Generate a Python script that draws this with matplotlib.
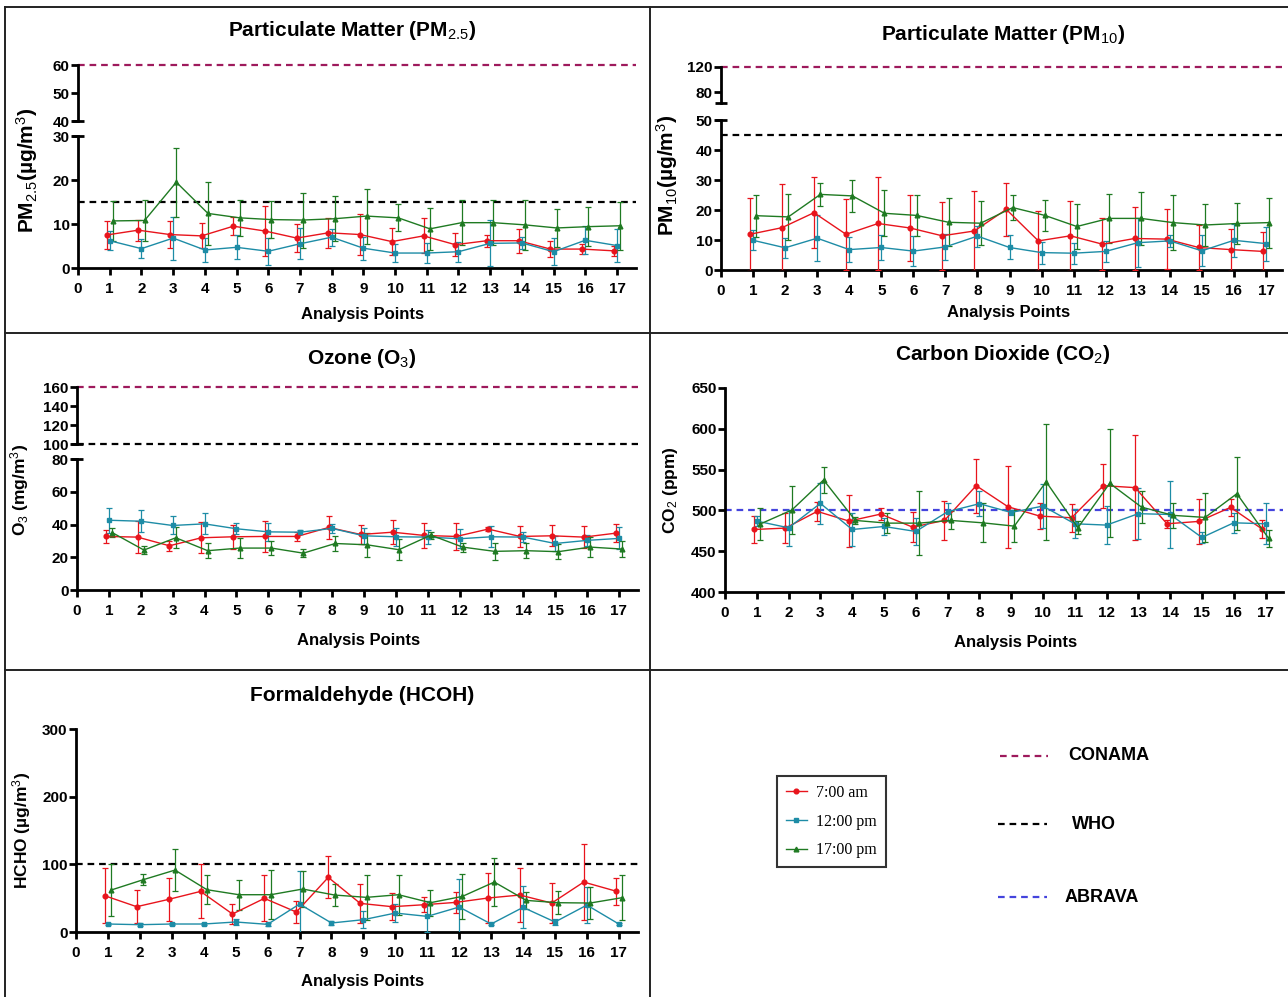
import numpy as np
import matplotlib
matplotlib.use("Agg")
import matplotlib.pyplot as plt
from matplotlib.lines import Line2D

# ---------------- data ----------------
points = list(range(1, 18))
x_ticks = list(range(0, 18))

pm25_am = [7.5, 8.6, 7.6, 7.3, 9.5, 8.4, 6.8, 8.0, 7.6, 6.0, 7.3, 5.3, 6.2, 6.2, 4.3, 4.3, 3.9]
pm25_am_sd = [3.15, 2.4, 3.0, 2.85, 2.05, 5.7, 3.1, 3.4, 4.65, 3.0, 3.95, 2.65, 1.35, 2.75, 1.75, 1.1, 1.15]
pm25_noon = [6.2, 4.4, 6.8, 4.1, 4.7, 3.8, 5.5, 7.0, 4.5, 3.4, 3.4, 3.7, 5.6, 5.7, 3.7, 6.3, 5.1]
pm25_noon_sd = [2.2, 2.1, 4.9, 2.65, 2.7, 3.05, 3.5, 1.9, 2.6, 2.1, 2.3, 2.25, 5.2, 1.45, 3.1, 3.2, 3.85]
pm25_pm = [10.7, 10.8, 19.5, 12.4, 11.4, 11.0, 10.9, 11.2, 11.8, 11.4, 8.9, 10.3, 10.3, 9.8, 9.1, 9.4, 9.6]
pm25_pm_sd = [4.55, 4.65, 7.8, 7.2, 4.1, 4.15, 6.25, 5.1, 6.25, 3.05, 4.75, 5.05, 5.05, 5.65, 4.35, 4.4, 5.45]

pm10_am = [11.9, 14.1, 19.1, 11.9, 15.5, 14.0, 11.4, 13.0, 20.2, 9.7, 11.4, 8.6, 10.5, 10.3, 7.5, 6.8, 6.2]
pm10_am_sd = [12.1, 14.4, 11.9, 11.9, 15.5, 11.0, 11.4, 13.2, 8.8, 9.9, 11.6, 8.7, 10.5, 10.1, 7.5, 7.0, 6.5]
pm10_noon = [9.9, 7.4, 10.6, 6.8, 7.5, 6.3, 7.7, 11.3, 7.5, 5.8, 5.6, 6.2, 9.1, 9.7, 6.4, 9.9, 8.8]
pm10_noon_sd = [3.4, 3.3, 7.7, 4.15, 4.3, 4.95, 4.4, 3.5, 4.0, 3.65, 3.45, 3.6, 8.1, 1.95, 5.2, 5.5, 5.65]
pm10_pm = [18.1, 17.7, 25.2, 24.7, 18.9, 18.2, 15.9, 15.6, 20.8, 18.2, 14.5, 17.2, 17.2, 15.8, 15.0, 15.5, 15.8]
pm10_pm_sd = [7.0, 7.7, 3.8, 5.35, 7.7, 6.8, 7.95, 7.3, 4.1, 5.2, 7.65, 8.05, 8.85, 9.05, 7.1, 6.75, 8.35]

o3_am = [32.7, 32.3, 27.0, 31.9, 32.5, 32.7, 32.7, 38.2, 33.9, 35.3, 33.3, 32.7, 37.2, 32.7, 33.1, 32.3, 34.7]
o3_am_sd = [4.0, 9.8, 3.0, 9.6, 7.5, 9.25, 2.75, 7.25, 5.7, 7.45, 7.4, 8.4, 1.25, 6.3, 6.3, 6.75, 5.65]
o3_noon = [42.6, 42.0, 39.4, 40.4, 37.4, 35.5, 35.3, 37.6, 33.1, 32.5, 32.3, 31.3, 32.5, 32.3, 28.4, 30.3, 31.5]
o3_noon_sd = [7.65, 6.65, 5.5, 6.35, 3.5, 5.5, 1.1, 2.75, 5.0, 5.5, 4.25, 5.8, 6.5, 3.25, 4.5, 3.25, 6.7]
o3_pm = [35.1, 24.4, 31.9, 24.0, 25.6, 25.6, 22.5, 28.4, 27.6, 24.6, 33.5, 26.2, 23.6, 24.0, 23.4, 26.2, 25.0]
o3_pm_sd = [2.6, 2.55, 6.3, 4.5, 6.25, 4.1, 2.35, 4.6, 7.35, 6.5, 2.2, 2.75, 5.15, 4.5, 4.75, 6.35, 4.95]

co2_am = [476.6, 478.3, 498.8, 486.9, 495.5, 479.5, 487.7, 530.3, 504.5, 493.0, 491.0, 530.3, 527.9, 483.6, 486.5, 503.7, 477.0]
co2_am_sd = [16, 18, 12, 32, 7, 18, 24, 33, 50, 16, 17, 27, 64, 5, 28, 10, 11]
co2_noon = [486.9, 478.7, 508.6, 476.6, 480.3, 474.2, 498.4, 508.2, 497.5, 505.3, 483.6, 482.0, 496.0, 495.0, 466.8, 484.8, 483.6]
co2_noon_sd = [6, 22, 25, 20, 10, 16, 11, 15, 3, 27, 18, 23, 31, 41, 7, 12, 25]
co2_pm = [483.2, 500.4, 537.3, 487.7, 484.4, 484.4, 487.7, 484.8, 480.7, 535.2, 478.7, 533.2, 504.0, 493.9, 491.4, 520.5, 465.6]
co2_pm_sd = [20, 29, 16, 4.5, 12, 39, 11, 24, 20, 71, 8, 66, 20, 15, 30, 45, 10]

hcho_am = [53.6, 37.4, 48.2, 60.0, 26.6, 49.7, 29.5, 80.7, 42.3, 37.4, 40.3, 43.8, 50.2, 54.6, 42.8, 73.8, 60.5]
hcho_am_sd = [41, 24, 32, 40, 14.5, 34, 16.7, 31, 29, 20, 11, 15.5, 36.7, 40, 29, 56, 20]
hcho_noon = [11.8, 10.8, 11.8, 11.8, 14.8, 11.3, 41.3, 13.3, 18.2, 28.0, 23.1, 36.9, 11.8, 36.4, 14.8, 39.8, 11.8]
hcho_noon_sd = [2, 2, 2, 2, 4, 2, 49, 3, 13, 13, 23, 42, 2, 31, 4, 26, 2]
hcho_pm = [62.0, 77.2, 91.5, 62.5, 55.1, 55.1, 63.5, 54.6, 51.2, 55.1, 43.3, 52.6, 73.8, 46.7, 43.3, 42.8, 50.7]
hcho_pm_sd = [39, 8, 31.5, 21, 22, 36, 27, 16, 33, 29.5, 19, 33, 36, 13, 17, 24, 33]

series_labels = ["7:00 am", "12:00 pm", "17:00 pm"]
standard_labels = ["CONAMA", "WHO", "ABRAVA"]
pm25_limits = {"CONAMA": 60, "WHO": 15}
pm10_limits = {"CONAMA": 120, "WHO": 45}
o3_limits = {"CONAMA": 160, "WHO": 100}
co2_limits = {"ABRAVA": 500}
hcho_limits = {"WHO": 100}

# ---------------- style ----------------
plt.rcParams["font.family"] = ["Liberation Sans", "DejaVu Sans"]
plt.rcParams["mathtext.fontset"] = "custom"
plt.rcParams["mathtext.rm"] = "Liberation Sans"
plt.rcParams["mathtext.it"] = "Liberation Sans"
plt.rcParams["mathtext.bf"] = "Liberation Sans:bold"

RED = "#e8141c"
TEAL = "#1d8ca6"
GREEN = "#1f7a22"
STD_COLORS = {"CONAMA": "#9e1a5c", "WHO": "#000000", "ABRAVA": "#4444dd"}
SERIES_COLORS = [RED, TEAL, GREEN]
SERIES_MARKERS = ["o", "s", "^"]
OFFSETS = [-0.1, 0.0, 0.1]

W, H = 1288, 997
fig = plt.figure(figsize=(W / 100, H / 100), dpi=100)

SPW = 2.0
TICKFS = 11


def make_ax(x0, x1, ytop, ybot):
    return fig.add_axes([x0 / W, 1 - ybot / H, (x1 - x0) / W, (ybot - ytop) / H])


def style_ax(ax, show_x=True):
    ax.spines["top"].set_visible(False)
    ax.spines["right"].set_visible(False)
    ax.spines["left"].set_linewidth(SPW)
    ax.spines["bottom"].set_linewidth(SPW)
    ax.tick_params(axis="y", direction="out", length=5, width=SPW, labelsize=TICKFS, pad=1)
    ax.tick_params(axis="x", direction="out", length=5, width=SPW, labelsize=TICKFS, pad=5)
    for lab in ax.get_yticklabels() + ax.get_xticklabels():
        lab.set_fontweight("bold")
    ax.set_facecolor("none")
    if show_x:
        ax.set_xticks(x_ticks)
        ax.set_xticklabels([str(t) for t in x_ticks], fontweight="bold")
    else:
        ax.spines["bottom"].set_visible(False)
        ax.set_xticks([])


def cap(ax, where):
    # small horizontal cap at the end of a broken y spine
    y = 1 if where == "top" else 0
    ax.plot([0], [y], marker="_", ms=9, mew=SPW, color="black",
            transform=ax.transAxes, clip_on=False, zorder=5)


def draw_series(ax, groups):
    for (m, s), c, mk, off in zip(groups, SERIES_COLORS, SERIES_MARKERS, OFFSETS):
        x = np.array(points) + off
        ax.errorbar(x, m, yerr=s, color=c, marker=mk, ms=3.4, lw=1.0,
                    elinewidth=0.9, capsize=2.2, capthick=0.9, zorder=3)


def hline(ax, y, name):
    ax.axhline(y, color=STD_COLORS[name], lw=1.6, ls=(0, (3, 2.2)), clip_on=False, zorder=2)


def title(x, y, s):
    fig.text(x / W, 1 - y / H, s, ha="center", va="center", fontsize=15, fontweight="bold")


def ylab(x, y, s, fs=13):
    fig.text(x / W, 1 - y / H, s, ha="center", va="center", rotation=90,
             fontsize=fs, fontweight="bold")


def xlab(x, y):
    fig.text(x / W, 1 - y / H, "Analysis Points", ha="center", va="center",
             fontsize=12, fontweight="bold")


XL = (0, 17.6)

# ---- Panel 1: PM2.5 ----
a_lo = make_ax(78, 636, 136, 268)
a_hi = make_ax(78, 636, 65, 121)
for a in (a_lo, a_hi):
    a.set_xlim(*XL)
a_lo.set_ylim(0, 30)
a_lo.set_yticks([0, 10, 20, 30])
a_hi.set_ylim(40, 60)
a_hi.set_yticks([40, 50, 60])
style_ax(a_lo)
style_ax(a_hi, show_x=False)
cap(a_lo, "top"); cap(a_hi, "bottom")
draw_series(a_lo, [(pm25_am, pm25_am_sd), (pm25_noon, pm25_noon_sd), (pm25_pm, pm25_pm_sd)])
hline(a_lo, pm25_limits["WHO"], "WHO")
hline(a_hi, pm25_limits["CONAMA"], "CONAMA")
title(352, 31, "Particulate Matter (PM$_{2.5}$)")
ylab(27, 170, "PM$_{2.5}$(µg/m$^{3}$)", fs=15)
xlab(363, 314)

# ---- Panel 2: PM10 ----
b_lo = make_ax(721, 1282, 120, 270)
b_hi = make_ax(721, 1282, 67, 103)
for a in (b_lo, b_hi):
    a.set_xlim(0, 17.5)
b_lo.set_ylim(0, 50)
b_lo.set_yticks([0, 10, 20, 30, 40, 50])
b_hi.set_ylim(62.4, 120)
b_hi.set_yticks([80, 120])
style_ax(b_lo)
style_ax(b_hi, show_x=False)
cap(b_lo, "top"); cap(b_hi, "bottom")
draw_series(b_lo, [(pm10_am, pm10_am_sd), (pm10_noon, pm10_noon_sd), (pm10_pm, pm10_pm_sd)])
hline(b_lo, pm10_limits["WHO"], "WHO")
hline(b_hi, pm10_limits["CONAMA"], "CONAMA")
title(1003, 34, "Particulate Matter (PM$_{10}$)")
ylab(667, 175, "PM$_{10}$(µg/m$^{3}$)", fs=15)
xlab(1009, 313)

# ---- Panel 3: O3 ----
c_lo = make_ax(77, 638, 459, 590)
c_hi = make_ax(77, 638, 387, 444)
for a in (c_lo, c_hi):
    a.set_xlim(*XL)
c_lo.set_ylim(0, 80)
c_lo.set_yticks([0, 20, 40, 60, 80])
c_hi.set_ylim(100, 160)
c_hi.set_yticks([100, 120, 140, 160])
style_ax(c_lo)
style_ax(c_hi, show_x=False)
cap(c_lo, "top"); cap(c_hi, "bottom")
draw_series(c_lo, [(o3_am, o3_am_sd), (o3_noon, o3_noon_sd), (o3_pm, o3_pm_sd)])
hline(c_hi, o3_limits["WHO"], "WHO")
hline(c_hi, o3_limits["CONAMA"], "CONAMA")
title(362, 358, "Ozone (O$_{3}$)")
ylab(20, 490, "O$_{3}$ (mg/m$^{3}$)", fs=12.5)
xlab(359, 640)

# ---- Panel 4: CO2 ----
d = make_ax(725, 1283, 388, 592)
d.set_xlim(0, 17.55)
d.set_ylim(400, 650)
d.set_yticks([400, 450, 500, 550, 600, 650])
style_ax(d)
draw_series(d, [(co2_am, co2_am_sd), (co2_noon, co2_noon_sd), (co2_pm, co2_pm_sd)])
hline(d, co2_limits["ABRAVA"], "ABRAVA")
title(1003, 355, "Carbon Dioxide (CO$_{2}$)")
ylab(670, 490, "CO$_{2}$ (ppm)", fs=12.5)
xlab(1016, 642)

# ---- Panel 5: HCHO ----
e = make_ax(76, 638, 729, 932)
e.set_xlim(*XL)
e.set_ylim(0, 300)
e.set_yticks([0, 100, 200, 300])
style_ax(e)
draw_series(e, [(hcho_am, hcho_am_sd), (hcho_noon, hcho_noon_sd), (hcho_pm, hcho_pm_sd)])
hline(e, hcho_limits["WHO"], "WHO")
title(362, 695, "Formaldehyde (HCOH)")
ylab(22, 830, "HCHO (µg/m$^{3}$)", fs=12.5)
xlab(363, 981)

# ---- Legend (series) ----
handles = [Line2D([], [], color=c, marker=mk, ms=3.4, lw=1.0)
           for c, mk in zip(SERIES_COLORS, SERIES_MARKERS)]
leg = fig.legend(handles, series_labels, loc="upper left",
                 bbox_to_anchor=(777 / W, 1 - 776 / H),
                 prop={"family": "Liberation Serif", "size": 11.5},
                 frameon=True, fancybox=False, edgecolor="black",
                 handlelength=1.3, handletextpad=0.6, labelspacing=0.8,
                 borderpad=0.55, borderaxespad=0)
leg.get_frame().set_linewidth(1.5)

# ---- Legend (standards) ----
std_pos = {"CONAMA": (1000, 1048, 756, 1068), "WHO": (998, 1047, 824, 1072), "ABRAVA": (998, 1047, 897, 1065)}
for name in standard_labels:
    x0, x1, yy, xt = std_pos[name]
    fig.add_artist(Line2D([x0 / W, x1 / W], [1 - yy / H, 1 - yy / H], color=STD_COLORS[name],
                          lw=1.6, ls=(0, (3, 2.2)), transform=fig.transFigure))
    fig.text(xt / W, 1 - yy / H, name, ha="left", va="center", fontsize=13, fontweight="bold")

# ---- Panel borders ----
def fline(xs, ys):
    fig.add_artist(Line2D([x / W for x in xs], [1 - y / H for y in ys], color="#222222",
                          lw=1.4, transform=fig.transFigure))

fline([5, 1288], [7, 7])
fline([5, 5], [7, 997])
fline([650, 650], [7, 997])
fline([5, 1288], [333, 333])
fline([5, 1288], [670, 670])

fig.savefig("out.png", dpi=100)
